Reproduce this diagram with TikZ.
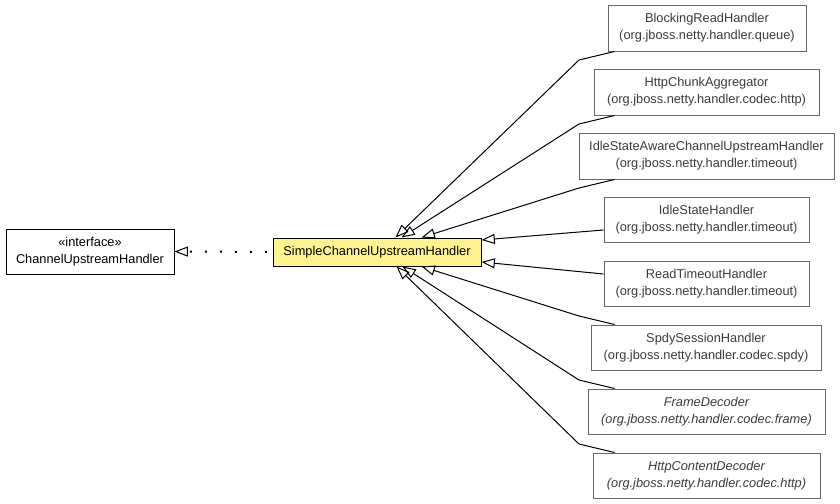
\documentclass[tikz,border=0pt]{standalone}
\usepackage{fontspec}
\setmainfont{Liberation Sans}
\usetikzlibrary{arrows.meta,calc}
\definecolor{clsyellow}{HTML}{FFF38D}
\definecolor{clsgray}{HTML}{666666}
\definecolor{txtgray}{HTML}{3C3C3C}
\begin{document}
\begin{tikzpicture}[x=0.75pt,y=-0.75pt,>={Triangle[open,length=10pt,width=7.5pt,line width=0.75pt]}]
  \tikzset{every node/.style={font=\fontsize{9.6}{12.6}\selectfont,align=center,inner sep=0pt},
    cls/.style={draw=black,fill=white,line width=0.75pt},
    sub/.style={draw=clsgray,fill=white,text=txtgray,line width=0.75pt},
    inh/.style={->,line width=0.75pt}}
  \useasboundingbox (0,0) rectangle (840,504);

  \node[cls,minimum width=126pt,minimum height=33.75pt] (iface) at (90,251.5) {«interface»\\ChannelUpstreamHandler};
  \node[cls,fill=clsyellow,minimum width=156pt,minimum height=21pt] (simple) at (377,252) {SimpleChannelUpstreamHandler};

  \node[sub,minimum width=148.5pt,minimum height=34.5pt]  (block)   at (707,28)    {BlockingReadHandler\\(org.jboss.netty.handler.queue)};
  \node[sub,minimum width=168.75pt,minimum height=34.5pt] (chunk)   at (706.5,92)  {HttpChunkAggregator\\(org.jboss.netty.handler.codec.http)};
  \node[sub,minimum width=191.25pt,minimum height=34.5pt] (aware)   at (706.5,156) {IdleStateAwareChannelUpstreamHandler\\(org.jboss.netty.handler.timeout)};
  \node[sub,minimum width=153.75pt,minimum height=33.75pt] (idle)   at (706.5,219.5) {IdleStateHandler\\(org.jboss.netty.handler.timeout)};
  \node[sub,minimum width=153.75pt,minimum height=33.75pt] (read)   at (706.5,283.5) {ReadTimeoutHandler\\(org.jboss.netty.handler.timeout)};
  \node[sub,minimum width=172.5pt,minimum height=33.75pt]  (spdy)   at (706,347.5) {SpdySessionHandler\\(org.jboss.netty.handler.codec.spdy)};
  \node[sub,minimum width=177.75pt,minimum height=33.75pt] (frame)  at (706.5,411.5) {\itshape FrameDecoder\\\itshape(org.jboss.netty.handler.codec.frame)};
  \node[sub,minimum width=170.25pt,minimum height=33.75pt] (content) at (706.5,475.5) {\itshape HttpContentDecoder\\\itshape(org.jboss.netty.handler.codec.http)};

  \coordinate (kblock)   at (579,60);
  \coordinate (kchunk)   at (579,124);
  \coordinate (kaware)   at (579,188);
  \coordinate (kspdy)    at (579,316);
  \coordinate (kframe)   at (579,380);
  \coordinate (kcontent) at (579,444);

  \draw[->,line width=1.5pt,dash pattern=on 1.5pt off 9.75pt,dash phase=7pt] (simple.west) -- (iface.east);

  \draw[inh] ($(block.south west)+(7,0)$) -- (kblock) -- ($(simple.north west)+(123,0)$);
  \draw[inh] ($(chunk.south west)+(21,0)$) -- (kchunk) -- ($(simple.north west)+(129,0)$);
  \draw[inh] ($(aware.south west)+(36,0)$) -- (kaware) -- ($(simple.north west)+(149,0)$);
  \draw[inh] ($(idle.west)+(0,10.5)$) -- ($(simple.east)+(0,-12)$);
  \draw[inh] ($(read.west)+(0,-9.5)$) -- ($(simple.east)+(0,10)$);
  \draw[inh] ($(spdy.north west)+(24,0)$) -- (kspdy) -- ($(simple.south west)+(149,0)$);
  \draw[inh] ($(frame.north west)+(27,0)$) -- (kframe) -- ($(simple.south west)+(130,0)$);
  \draw[inh] ($(content.north west)+(22,0)$) -- (kcontent) -- ($(simple.south west)+(124,0)$);
\end{tikzpicture}
\end{document}
